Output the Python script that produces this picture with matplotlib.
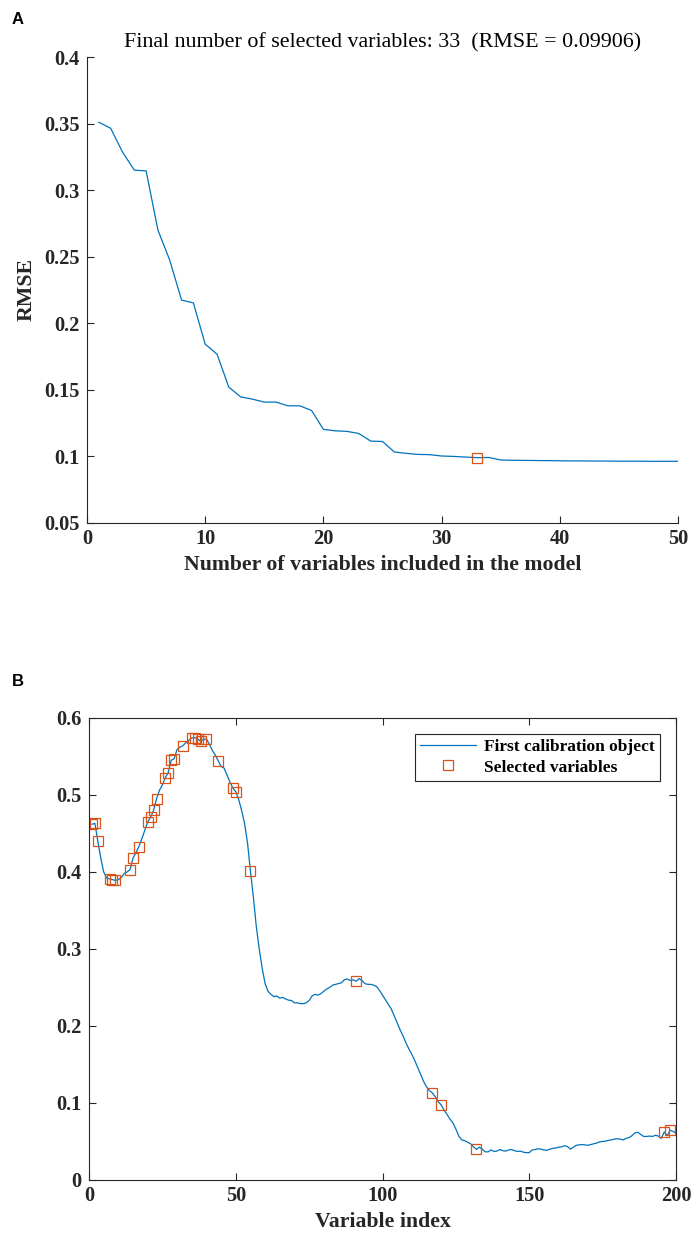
import matplotlib
matplotlib.use("Agg")
import matplotlib.pyplot as plt
import numpy as np

# ---------------- data ----------------
n_vars = list(range(1, 51))
rmse = [0.3510, 0.3465, 0.3287, 0.3150, 0.3145, 0.2700, 0.2474, 0.2174, 0.2153, 0.1843,
        0.1768, 0.1520, 0.1447, 0.1430, 0.1408, 0.1408, 0.1380, 0.1380, 0.1345, 0.1203,
        0.1192, 0.1188, 0.1172, 0.1115, 0.1112, 0.1033, 0.1023, 0.1015, 0.1013, 0.1003,
        0.1000, 0.0995, 0.09906, 0.0992, 0.0973, 0.0971, 0.0970, 0.0969, 0.0968, 0.0967,
        0.0966, 0.0966, 0.0965, 0.0965, 0.0964, 0.0964, 0.0964, 0.0963, 0.0963, 0.0963]
final_n = 33
final_rmse = 0.09906

var_index = list(range(1, 201))
spectrum = [
    0.462, 0.463, 0.440, 0.418, 0.400, 0.392, 0.391, 0.390, 0.389, 0.390,
    0.393, 0.398, 0.400, 0.403, 0.418, 0.425, 0.433, 0.443, 0.454, 0.465,
    0.471, 0.480, 0.495, 0.506, 0.513, 0.5225, 0.529, 0.545, 0.547, 0.559,
    0.562, 0.564, 0.568, 0.571, 0.574, 0.5745, 0.5727, 0.5697, 0.572, 0.5727,
    0.566, 0.558, 0.552, 0.5446, 0.537, 0.535, 0.526, 0.517, 0.509, 0.5043,
    0.494, 0.480, 0.463, 0.438, 0.401, 0.3675, 0.329, 0.300, 0.275, 0.255,
    0.245, 0.241, 0.238, 0.239, 0.236, 0.237, 0.235, 0.2335, 0.233, 0.230,
    0.230, 0.229, 0.229, 0.230, 0.233, 0.239, 0.241, 0.240, 0.242, 0.245,
    0.248, 0.250, 0.253, 0.254, 0.255, 0.256, 0.260, 0.261, 0.259, 0.260,
    0.258, 0.2615, 0.259, 0.255, 0.254, 0.254, 0.253, 0.251, 0.246, 0.240,
    0.234, 0.228, 0.222, 0.213, 0.204, 0.195, 0.187, 0.178, 0.170, 0.163,
    0.155, 0.146, 0.137, 0.128, 0.121, 0.116, 0.113, 0.108, 0.1015, 0.0974,
    0.0905, 0.085, 0.079, 0.074, 0.066, 0.057, 0.052, 0.051, 0.049, 0.047,
    0.043, 0.0397, 0.0425, 0.040, 0.0365, 0.0365, 0.039, 0.037, 0.0375, 0.0395,
    0.038, 0.0375, 0.039, 0.0395, 0.038, 0.037, 0.0375, 0.036, 0.0355, 0.0355,
    0.039, 0.0395, 0.0405, 0.040, 0.039, 0.0385, 0.040, 0.041, 0.0415, 0.0425,
    0.043, 0.0445, 0.0435, 0.040, 0.0425, 0.045, 0.0455, 0.046, 0.0455, 0.045,
    0.046, 0.047, 0.048, 0.0495, 0.050, 0.0505, 0.0515, 0.052, 0.053, 0.0535,
    0.053, 0.052, 0.054, 0.055, 0.0575, 0.061, 0.062, 0.059, 0.0565, 0.0565,
    0.057, 0.0565, 0.058, 0.057, 0.054, 0.0624, 0.0575, 0.0646, 0.063, 0.061]
selected = [1, 2, 3, 7, 8, 9, 14, 15, 17, 20, 21, 22, 23, 26, 27, 28, 29, 32, 35, 36,
            37, 38, 40, 44, 49, 50, 55, 91, 117, 120, 132, 196, 198]

yticksA = [0.05, 0.1, 0.15, 0.2, 0.25, 0.3, 0.35, 0.4]
yticklabelsA = ["0.05", "0.1", "0.15", "0.2", "0.25", "0.3", "0.35", "0.4"]
xticksA = [0, 10, 20, 30, 40, 50]
yticksB = [0, 0.1, 0.2, 0.3, 0.4, 0.5, 0.6]
yticklabelsB = ["0", "0.1", "0.2", "0.3", "0.4", "0.5", "0.6"]
xticksB = [0, 50, 100, 150, 200]

# ---------------- style ----------------
BLUE = "#0072BD"
ORANGE = "#D95319"
AXC = "#262626"
SERIF = ["Liberation Serif", "DejaVu Serif"]
SANS = ["Liberation Sans", "DejaVu Sans"]
plt.rcParams["font.family"] = SERIF

fig = plt.figure(figsize=(6.91, 12.34), dpi=100)

def style_axes(ax, box):
    for s in ["left", "bottom", "top", "right"]:
        ax.spines[s].set_color(AXC)
        ax.spines[s].set_linewidth(0.8)
    if not box:
        ax.spines["top"].set_visible(False)
        ax.spines["right"].set_visible(False)
    ax.tick_params(direction="in", length=5, width=0.8, color=AXC,
                   labelcolor=AXC, labelsize=14.7, top=box, right=box)
    ax.tick_params(axis="y", pad=5.5)
    ax.tick_params(axis="x", pad=4.5)
    for lab in ax.get_xticklabels() + ax.get_yticklabels():
        lab.set_fontweight("bold")
        lab.set_family(SERIF)

# ---------------- panel A ----------------
axA = fig.add_axes([0.1259, 0.5762, 0.8553, 0.3776])
axA.plot(n_vars, rmse, color=BLUE, lw=0.9)
axA.plot([final_n], [final_rmse], ls="none", marker="s", ms=6.5,
         mfc="none", mec=ORANGE, mew=0.9)
axA.set_xlim(0, 50)
axA.set_ylim(0.05, 0.4)
axA.set_xticks(xticksA)
axA.set_yticks(yticksA)
axA.set_yticklabels(yticklabelsA)
style_axes(axA, box=False)
axA.set_xlabel("Number of variables included in the model", fontsize=15.7,
               fontweight="bold", color=AXC, labelpad=4)
axA.set_ylabel("RMSE", fontsize=15.7, fontweight="bold", color=AXC, labelpad=5)
axA.set_title("Final number of selected variables: %d  (RMSE = %.5f)" % (final_n, final_rmse),
              fontsize=15.8, color="black", pad=7)

# ---------------- panel B ----------------
axB = fig.add_axes([0.1288, 0.0438, 0.8495, 0.3744])
axB.plot(var_index, spectrum, color=BLUE, lw=0.9, label="First calibration object")
sel_y = [spectrum[i - 1] for i in selected]
axB.plot(selected, sel_y, ls="none", marker="s", ms=6.5, mfc="none",
         mec=ORANGE, mew=0.9, label="Selected variables")
axB.set_xlim(0, 200)
axB.set_ylim(0, 0.6)
axB.set_xticks(xticksB)
axB.set_yticks(yticksB)
axB.set_yticklabels(yticklabelsB)
style_axes(axB, box=True)
axB.set_xlabel("Variable index", fontsize=15.7, fontweight="bold", color=AXC, labelpad=4)
leg = axB.legend(loc="upper right", bbox_to_anchor=(0.973, 0.966),
                 prop={"family": SERIF, "weight": "bold", "size": 12.5},
                 frameon=True, fancybox=False, edgecolor=AXC, framealpha=1,
                 borderpad=0.3, handlelength=3.2, handletextpad=0.5, labelspacing=0.25,
                 borderaxespad=0)
leg.get_frame().set_linewidth(0.8)

# panel letters
fig.text(12 / 691, 1 - 19 / 1234, "A", family=SANS, fontweight="bold", fontsize=12,
         va="center", ha="left")
fig.text(12 / 691, 1 - 681 / 1234, "B", family=SANS, fontweight="bold", fontsize=12,
         va="center", ha="left")

fig.savefig("out.png", dpi=100)
